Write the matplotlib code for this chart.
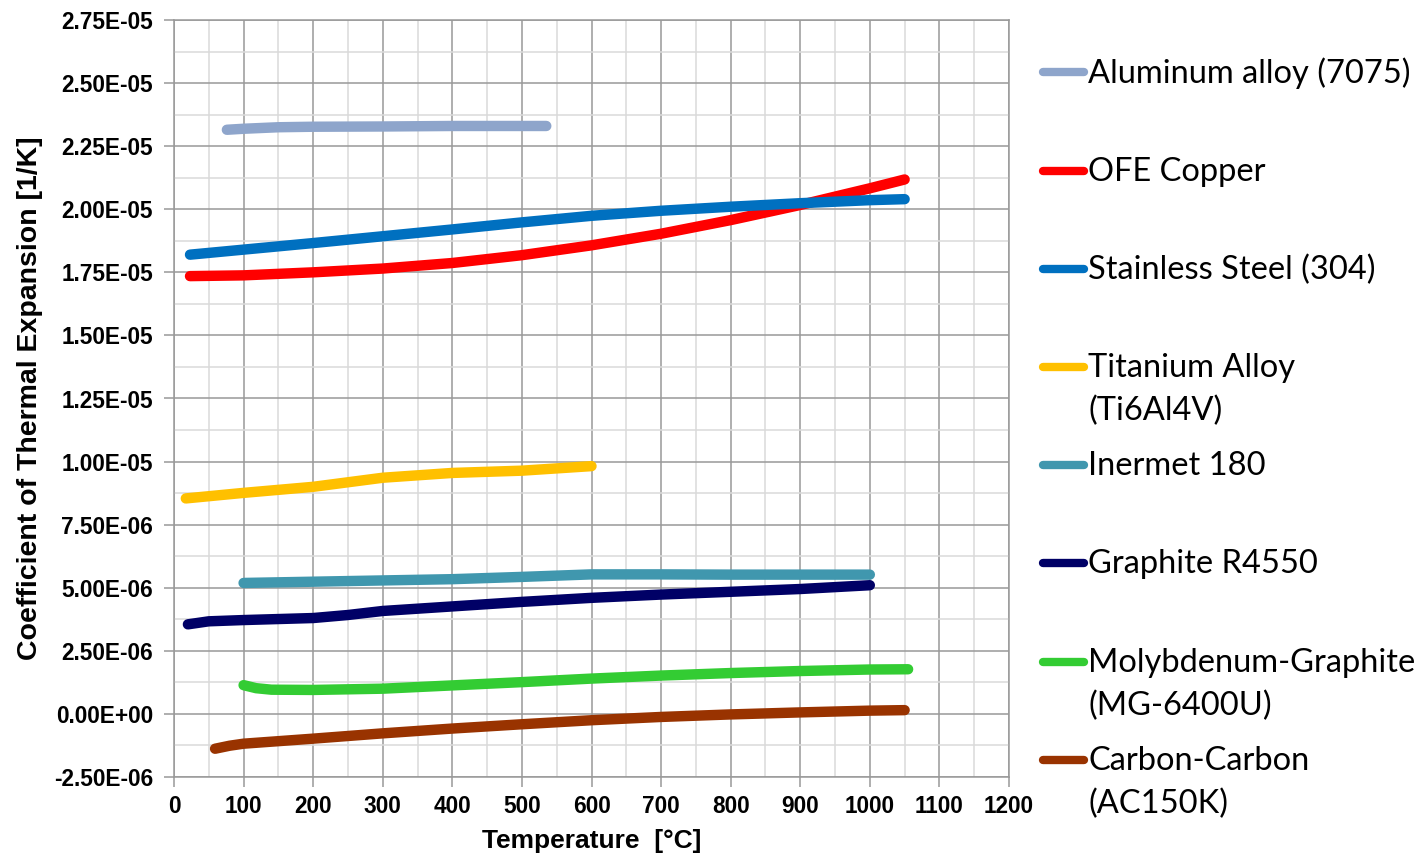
#!/usr/bin/env python3
# -*- coding: utf-8 -*-

import matplotlib
matplotlib.use('Agg')
import matplotlib.pyplot as plt
from matplotlib.lines import Line2D
from matplotlib.ticker import MultipleLocator, FuncFormatter

# temperature [C] and CTE [1/K]
al_t = [76, 100, 150, 200, 300, 400, 535]
al_a = [2.315e-5, 2.319e-5, 2.325e-5, 2.327e-5, 2.328e-5, 2.330e-5, 2.330e-5]

cu_t = [23, 100, 200, 300, 400, 500, 600, 700, 800, 900, 1000, 1050]
cu_a = [1.735e-5, 1.738e-5, 1.750e-5, 1.765e-5, 1.787e-5, 1.818e-5, 1.857e-5,
        1.903e-5, 1.957e-5, 2.017e-5, 2.083e-5, 2.118e-5]

ss_t = [23, 100, 200, 300, 400, 500, 600, 700, 800, 900, 1000, 1050]
ss_a = [1.820e-5, 1.840e-5, 1.866e-5, 1.893e-5, 1.920e-5, 1.948e-5, 1.974e-5,
        1.994e-5, 2.010e-5, 2.024e-5, 2.036e-5, 2.040e-5]

ti_t = [17, 100, 200, 300, 400, 500, 600]
ti_a = [8.54e-6, 8.76e-6, 9.00e-6, 9.36e-6, 9.55e-6, 9.64e-6, 9.82e-6]

inm_t = [100, 200, 300, 400, 500, 600, 700, 800, 900, 1000]
inm_a = [5.19e-6, 5.24e-6, 5.29e-6, 5.34e-6, 5.43e-6, 5.53e-6, 5.53e-6,
         5.52e-6, 5.52e-6, 5.52e-6]

gr_t = [20, 50, 100, 200, 250, 300, 400, 500, 600, 700, 800, 900, 1000]
gr_a = [3.55e-6, 3.67e-6, 3.72e-6, 3.80e-6, 3.92e-6, 4.08e-6, 4.26e-6, 4.44e-6,
        4.60e-6, 4.73e-6, 4.84e-6, 4.95e-6, 5.10e-6]

mg_t = [100, 118, 140, 200, 300, 400, 500, 600, 700, 800, 900, 1000, 1055]
mg_a = [1.14e-6, 1.02e-6, 0.96e-6, 0.95e-6, 1.00e-6, 1.13e-6, 1.26e-6,
        1.40e-6, 1.52e-6, 1.62e-6, 1.70e-6, 1.76e-6, 1.77e-6]

cc_t = [59, 80, 100, 200, 300, 400, 500, 600, 700, 800, 900, 1000, 1050]
cc_a = [-1.38e-6, -1.26e-6, -1.18e-6, -0.98e-6, -0.77e-6, -0.58e-6, -0.41e-6,
        -0.25e-6, -0.12e-6, -0.02e-6, 0.06e-6, 0.13e-6, 0.15e-6]

series = [
  (al_t, al_a, '#8EA5CB', 'Aluminum alloy (7075)'),
  (cu_t, cu_a, '#FF0000', 'OFE Copper'),
  (ss_t, ss_a, '#0070C0', 'Stainless Steel (304)'),
  (ti_t, ti_a, '#FFC000', 'Titanium Alloy\n(Ti6Al4V)'),
  (inm_t, inm_a, '#4097AE', 'Inermet 180'),
  (gr_t, gr_a, '#000066', 'Graphite R4550'),
  (mg_t, mg_a, '#33CC33', 'Molybdenum-Graphite\n(MG-6400U)'),
  (cc_t, cc_a, '#993300', 'Carbon-Carbon\n(AC150K)'),
]

plt.rcParams['font.family'] = ['Liberation Sans', 'DejaVu Sans']
plt.rcParams['font.weight'] = 'bold'

W, H = 1423, 855
fig = plt.figure(figsize=(W / 100, H / 100), dpi=100)
ax = fig.add_axes([174 / W, 1 - 777 / H, (1009 - 174) / W, (777 - 20) / H])

for t, a, c, lab in series:
  ax.plot(t, a, color=c, lw=7.5, solid_capstyle='round', solid_joinstyle='round')

ax.set_xlim(0, 1200)
ax.set_ylim(-2.5e-6, 2.75e-5)
ax.xaxis.set_major_locator(MultipleLocator(100))
ax.xaxis.set_minor_locator(MultipleLocator(50))
ax.yaxis.set_major_locator(MultipleLocator(2.5e-6))
ax.yaxis.set_minor_locator(MultipleLocator(1.25e-6))
ax.yaxis.set_major_formatter(FuncFormatter(lambda v, p: '{:.2E}'.format(0.0 if abs(v) < 1e-12 else v)))
ax.grid(which='major', color='#999999', lw=1.1)
ax.grid(which='minor', color='#DADADA', lw=1.1)
ax.set_axisbelow(True)
for s in ax.spines.values():
  s.set_color('#999999')
  s.set_linewidth(1.1)
ax.tick_params(which='major', direction='out', length=7, color='#999999', width=1.1,
               labelsize=16.3)
ax.tick_params(axis='x', which='major', pad=6)
ax.tick_params(axis='y', which='major', pad=8)
ax.tick_params(which='minor', length=0)
ax.set_xlabel('Temperature  [°C]', fontsize=19, fontweight='bold', labelpad=8)
ax.set_ylabel('Coefficient of Thermal Expansion [1/K]', fontsize=20.5, fontweight='bold', labelpad=8)

# legend drawn by hand to the right, like the spreadsheet one
row_y = [73, 172, 270, 368, 466, 564, 663, 761]
for (t, a, c, lab), yp in zip(series, row_y):
  fy = 1 - (yp - 1) / H
  fig.add_artist(Line2D([1043 / W, 1084 / W], [fy, fy], color=c, lw=6, solid_capstyle='round'))
  for k, part in enumerate(lab.split('\n')):
    fig.text(1088 / W, 1 - (yp + 43 * k) / H, part, fontsize=23.5, family='Lato',
             fontweight='normal', va='center', ha='left', color='black')

fig.savefig('out.png', dpi=100)
